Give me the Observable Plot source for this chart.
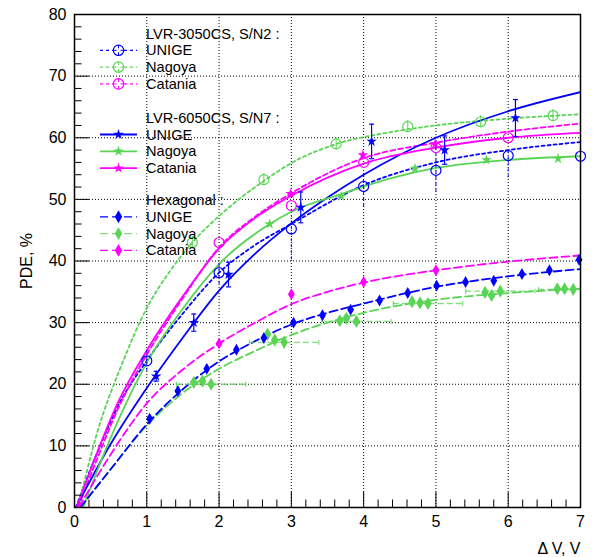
<!DOCTYPE html>
<html>
<head>
<meta charset="utf-8">
<script src="https://cdn.jsdelivr.net/npm/d3@7"></script>
<script src="https://cdn.jsdelivr.net/npm/@observablehq/plot@0.6"></script>
<style>
  html, body { margin: 0; padding: 0; background: #fff; }
  svg { display: block; }
</style>
</head>
<body>
<div id="chart"></div>
<script>
// ---------- tick labels ----------
const X_TICKS = [0, 1, 2, 3, 4, 5, 6, 7];
const Y_TICKS = [0, 10, 20, 30, 40, 50, 60, 70, 80];
const X_GRID = [1, 2, 3, 4, 5, 6];
const Y_GRID = [10, 20, 30, 40, 50, 60, 70];
const X_TITLE = "\u0394 V, V";
const Y_TITLE = "PDE, %";

// ---------- data points ----------
// LVR-3050CS, S/N2
const s3050UnigeX = [1, 2, 3, 4, 5, 6, 7];
const s3050UnigeY = [23.8, 38.1, 45.2, 52.1, 54.7, 57.1, 57.0];
const s3050UnigeErrLo = [1.7, 1.9, 5.0, 3.4, 3.5, 3.6, 3.6];
const s3050UnigeErrHi = [1.7, 1.9, 2.0, 2.0, 5.4, 1.0, 3.4];

const s3050NagoyaX = [1.63, 2.62, 3.62, 4.61, 5.62, 6.62];
const s3050NagoyaY = [43.0, 53.2, 59.0, 61.8, 62.6, 63.6];
const s3050NagoyaErr = [1, 1, 1, 1, 1, 1];

const s3050CataniaX = [2, 3, 4, 5, 6];
const s3050CataniaY = [43.0, 49.0, 56.0, 58.4, 60.0];

// LVR-6050CS, S/N7
const s6050UnigeX = [1.13, 1.65, 2.13, 3.13, 4.11, 5.12, 6.1];
const s6050UnigeY = [21.3, 30.0, 37.8, 48.7, 59.4, 58.0, 63.2];
const s6050UnigeErr = [0.8, 1.4, 2.0, 2.5, 2.8, 2.3, 3.0];

const s6050NagoyaX = [2.7, 3.69, 4.71, 5.7, 6.69];
const s6050NagoyaY = [46.0, 50.5, 55.0, 56.4, 56.6];

const s6050CataniaX = [2.99, 3.99, 4.99];
const s6050CataniaY = [50.9, 57.2, 59.0];

// Hexagonal
const hexUnigeX = [1.04, 1.43, 1.83, 2.24, 2.62, 3.03, 3.43, 3.82, 4.22, 4.61, 5.01, 5.41, 5.8, 6.19, 6.57, 6.98];
const hexUnigeY = [14.4, 18.9, 22.5, 25.6, 27.5, 30.0, 31.2, 32.1, 33.6, 34.8, 36.0, 36.6, 36.8, 37.9, 38.5, 40.2];

const hexNagoyaX = [1.65, 1.77, 1.89, 2.67, 2.77, 2.9, 3.67, 3.76, 3.9, 4.67, 4.78, 4.89, 5.68, 5.77, 5.89, 6.68, 6.78, 6.9];
const hexNagoyaY = [20.3, 20.5, 20.0, 28.1, 27.2, 26.8, 30.3, 30.7, 30.2, 33.4, 33.2, 33.1, 34.9, 34.4, 35.1, 35.5, 35.5, 35.4];
const hexNagoyaXErr = [0, 0, 0.48, 0, 0, 0.48, 0, 0, 0.48, 0, 0, 0.48, 0, 0, 0.48, 0, 0, 0.48];

const hexCataniaX = [2, 3, 4, 5];
const hexCataniaY = [26.6, 34.6, 36.6, 38.5];

// ---------- fitted curves ----------
const fit3050UnigeX = [0.02, 0.3, 0.64, 1, 1.5, 2, 2.5, 3, 4, 5, 6, 7];
const fit3050UnigeY = [0, 8.5, 17.3, 23.8, 31.5, 38.1, 42.6, 46.0, 52.3, 56.0, 58.0, 59.3];

const fit3050NagoyaX = [0.05, 0.31, 0.64, 1.03, 1.33, 1.63, 2.02, 2.62, 3, 3.6, 4.37, 5, 6, 7];
const fit3050NagoyaY = [0, 12.0, 22.8, 33.0, 38.5, 43.0, 47.5, 53.0, 55.9, 58.9, 60.9, 62.0, 63.1, 63.8];

const fit3050CataniaX = [0.05, 0.3, 0.6, 1, 1.5, 2, 2.5, 3, 4, 5, 6, 7];
const fit3050CataniaY = [0, 7.5, 16.0, 24.8, 34.0, 42.2, 47.2, 51.0, 56.7, 59.2, 61.0, 62.3];

const fit6050UnigeX = [0.02, 0.5, 1, 1.5, 2, 2.5, 3, 3.5, 4, 5, 6, 7];
const fit6050UnigeY = [0, 10.3, 19.4, 27.6, 35.2, 41.2, 46.1, 50.3, 54.0, 60.0, 64.3, 67.4];

const fit6050NagoyaX = [0.12, 0.4, 0.73, 1, 1.5, 2, 2.7, 3, 3.7, 4.37, 5, 6, 7];
const fit6050NagoyaY = [0, 8.5, 17.3, 23.5, 32.3, 39.5, 46.0, 48.0, 50.9, 53.4, 55.1, 56.4, 57.0];

const fit6050CataniaX = [0.03, 0.3, 0.6, 1, 1.5, 2, 2.5, 3, 4, 5, 6, 7];
const fit6050CataniaY = [0, 8.5, 17.0, 25.5, 34.3, 42.0, 47.0, 50.6, 55.8, 58.4, 60.0, 60.8];

const fitHexUnigeX = [0.08, 0.5, 1, 1.5, 2, 2.5, 3, 3.5, 4, 5, 6, 7];
const fitHexUnigeY = [0, 6.2, 13.5, 19.2, 23.7, 27.0, 29.7, 31.6, 33.1, 35.8, 37.5, 38.7];

const fitHexNagoyaX = [0.08, 0.5, 1, 1.5, 2, 2.5, 3, 3.5, 4, 5, 6, 7];
const fitHexNagoyaY = [0, 6.2, 13.3, 18.6, 22.5, 25.4, 28.0, 30.0, 31.6, 33.7, 34.8, 35.5];

const fitHexCataniaX = [0.06, 0.5, 1, 1.5, 2, 2.5, 3, 3.5, 4, 5, 6, 7];
const fitHexCataniaY = [0, 8.6, 16.9, 22.4, 26.6, 30.0, 33.0, 35.0, 36.5, 38.5, 39.9, 40.9];

// ---------- legend ----------
const legendHeaders = ["LVR-3050CS, S/N2 :", "LVR-6050CS, S/N7 :", "Hexagonal :"];
const legendLabels = ["UNIGE", "Nagoya", "Catania"];

// ---------- styles ----------
const BLUE = "#0000ff", GREEN = "#59d454", MAGENTA = "#ff00ff";
const FONT = "'Liberation Sans', Arial, Helvetica, sans-serif";
const DASH_SHORT = "3,3", DASH_MED = "5,3", DASH_LONG = "8,4";

const zip = (xs, ys, extra = {}) => xs.map((x, i) => {
  const o = {x, y: ys[i]};
  for (const k in extra) o[k] = extra[k][i];
  return o;
});

const capH = {draw(ctx) { ctx.moveTo(-2.5, 0); ctx.lineTo(2.5, 0); }};
const capV = {draw(ctx) { ctx.moveTo(0, -2.5); ctx.lineTo(0, 2.5); }};

const d3050U = zip(s3050UnigeX, s3050UnigeY, {lo: s3050UnigeErrLo, hi: s3050UnigeErrHi});
const d3050N = zip(s3050NagoyaX, s3050NagoyaY, {e: s3050NagoyaErr});
const d3050C = zip(s3050CataniaX, s3050CataniaY);
const d6050U = zip(s6050UnigeX, s6050UnigeY, {e: s6050UnigeErr});
const d6050N = zip(s6050NagoyaX, s6050NagoyaY);
const d6050C = zip(s6050CataniaX, s6050CataniaY);
const dHexU = zip(hexUnigeX, hexUnigeY);
const dHexN = zip(hexNagoyaX, hexNagoyaY, {xe: hexNagoyaXErr});
const dHexNBars = dHexN.filter(d => d.xe > 0);
const dHexC = zip(hexCataniaX, hexCataniaY);

const fits = [
  {x: fit3050UnigeX, y: fit3050UnigeY, stroke: BLUE, dash: DASH_SHORT},
  {x: fit3050NagoyaX, y: fit3050NagoyaY, stroke: GREEN, dash: DASH_SHORT},
  {x: fit3050CataniaX, y: fit3050CataniaY, stroke: MAGENTA, dash: DASH_MED},
  {x: fit6050UnigeX, y: fit6050UnigeY, stroke: BLUE, dash: null},
  {x: fit6050NagoyaX, y: fit6050NagoyaY, stroke: GREEN, dash: null},
  {x: fit6050CataniaX, y: fit6050CataniaY, stroke: MAGENTA, dash: null},
  {x: fitHexNagoyaX, y: fitHexNagoyaY, stroke: GREEN, dash: DASH_LONG},
  {x: fitHexUnigeX, y: fitHexUnigeY, stroke: BLUE, dash: DASH_LONG},
  {x: fitHexCataniaX, y: fitHexCataniaY, stroke: MAGENTA, dash: DASH_LONG}
];

const xMinor = d3.range(0, 7.0001, 0.2).filter(v => Math.abs(v - Math.round(v)) > 1e-6);
const yMinor = d3.range(0, 80.0001, 2).filter(v => v % 10 !== 0);

const W = 596, H = 557, ML = 74, MR = 16, MT = 14, MB = 50;
const PW = W - ML - MR, PH = H - MT - MB;

const svg = Plot.plot({
  width: W, height: H,
  marginLeft: ML, marginRight: MR, marginTop: MT, marginBottom: MB,
  style: {fontFamily: FONT, fontSize: "16px", color: "black", background: "white"},
  x: {domain: [0, 7]},
  y: {domain: [0, 80]},
  marks: [
    Plot.gridX(X_GRID, {stroke: "black", strokeOpacity: 1, strokeWidth: 1, strokeDasharray: "1,2"}),
    Plot.gridY(Y_GRID, {stroke: "black", strokeOpacity: 1, strokeWidth: 1, strokeDasharray: "1,2"}),

    // fitted curves
    ...fits.map(f => Plot.line(zip(f.x, f.y), {
      x: "x", y: "y", stroke: f.stroke, strokeWidth: 1.8,
      strokeDasharray: f.dash, curve: "monotone-x", clip: true
    })),

    // error bars
    Plot.ruleX(d3050U, {x: "x", y1: d => d.y - d.lo, y2: d => d.y + d.hi, stroke: BLUE, strokeWidth: 1, strokeDasharray: DASH_SHORT}),
    Plot.ruleX(d3050N, {x: "x", y1: d => d.y - d.e, y2: d => d.y + d.e, stroke: GREEN, strokeWidth: 1}),
    Plot.ruleX(d6050U, {x: "x", y1: d => d.y - d.e, y2: d => d.y + d.e, stroke: BLUE, strokeWidth: 1.2}),
    Plot.dot(d6050U, {x: "x", y: d => d.y - d.e, symbol: capH, stroke: BLUE, strokeWidth: 1.2}),
    Plot.dot(d6050U, {x: "x", y: d => d.y + d.e, symbol: capH, stroke: BLUE, strokeWidth: 1.2}),
    Plot.ruleY(dHexNBars, {y: "y", x1: d => d.x - d.xe, x2: d => d.x + d.xe, stroke: GREEN, strokeOpacity: 0.75, strokeWidth: 1.3, strokeDasharray: "6,3", clip: true}),
    Plot.dot(dHexNBars.filter(d => d.x - d.xe >= 0), {x: d => d.x - d.xe, y: "y", symbol: capV, stroke: GREEN, strokeOpacity: 0.75, strokeWidth: 1.2}),
    Plot.dot(dHexNBars.filter(d => d.x + d.xe <= 7), {x: d => d.x + d.xe, y: "y", symbol: capV, stroke: GREEN, strokeOpacity: 0.75, strokeWidth: 1.2}),

    // markers
    Plot.dot(d3050U, {x: "x", y: "y", r: 5, stroke: BLUE, fill: "none", strokeWidth: 1.2}),
    Plot.dot(d3050N, {x: "x", y: "y", r: 5, stroke: GREEN, fill: "none", strokeWidth: 1.2}),
    Plot.dot(d3050C, {x: "x", y: "y", r: 5, stroke: MAGENTA, fill: "none", strokeWidth: 1.2}),
    Plot.dot(d6050U, {x: "x", y: "y", r: 3.3, symbol: "star", fill: BLUE, stroke: "none"}),
    Plot.dot(d6050N, {x: "x", y: "y", r: 3.3, symbol: "star", fill: GREEN, stroke: "none"}),
    Plot.dot(d6050C, {x: "x", y: "y", r: 3.3, symbol: "star", fill: MAGENTA, stroke: "none"}),
    Plot.dot(dHexN, {x: "x", y: "y", r: 4, symbol: "diamond", fill: GREEN, stroke: "none"}),
    Plot.dot(dHexU, {x: "x", y: "y", r: 3.6, symbol: "diamond", fill: BLUE, stroke: "none"}),
    Plot.dot(dHexC, {x: "x", y: "y", r: 3.6, symbol: "diamond", fill: MAGENTA, stroke: "none"}),

    // frame and inward ticks
    Plot.frame({stroke: "black", strokeWidth: 1.5}),
    Plot.tickX(X_TICKS, {x: d => d, stroke: "black", strokeWidth: 1, insetTop: PH - 15}),
    Plot.tickX(xMinor, {x: d => d, stroke: "black", strokeWidth: 1, insetTop: PH - 7.5}),
    Plot.tickY(Y_TICKS, {y: d => d, stroke: "black", strokeWidth: 1, insetRight: PW - 15}),
    Plot.tickY(yMinor, {y: d => d, stroke: "black", strokeWidth: 1, insetRight: PW - 7.5}),

    // axis labels
    Plot.axisX({ticks: X_TICKS, tickSize: 0, tickPadding: 8, label: null, fontSize: 16, tickFormat: d => String(d)}),
    Plot.axisY({ticks: Y_TICKS, tickSize: 0, tickPadding: 8, label: null, fontSize: 16, tickFormat: d => String(d)}),
    Plot.text([X_TITLE], {frameAnchor: "bottom-right", text: d => d, dy: 46, lineAnchor: "bottom", textAnchor: "end", fontSize: 16, fill: "black"}),
    Plot.text([Y_TITLE], {frameAnchor: "left", text: d => d, dx: -48, rotate: -90, textAnchor: "middle", fontSize: 16, fill: "black"})
  ]
});

// ---------- legend (drawn into the same svg) ----------
const leg = d3.select(svg).append("g")
  .attr("font-family", FONT).attr("font-size", "14.6px").attr("fill", "black")
  .attr("text-anchor", "start").style("text-anchor", "start");
const textX = 146, markX = 118.5, lineX1 = 100, lineX2 = 137;
const groups = [
  {header: legendHeaders[0], top: 38.5, kind: "circle", dashes: [DASH_SHORT, DASH_SHORT, DASH_SHORT]},
  {header: legendHeaders[1], top: 122.7, kind: "star", dashes: [null, null, null]},
  {header: legendHeaders[2], top: 205, kind: "diamond", dashes: [DASH_LONG, DASH_LONG, DASH_LONG]}
];
const colors = [BLUE, GREEN, MAGENTA];
const rowStep = 16.8;
groups.forEach(g => {
  leg.append("text").attr("x", textX).attr("y", g.top).attr("text-anchor", "start").text(g.header);
  legendLabels.forEach((lab, i) => {
    const base = g.top + rowStep * (i + 1);
    const cy = base - 5;
    const col = colors[i];
    const isLightGreen = g.kind === "diamond" && i === 1;
    leg.append("line").attr("x1", lineX1).attr("x2", lineX2).attr("y1", cy).attr("y2", cy)
      .attr("stroke", col).attr("stroke-width", g.kind === "star" ? 1.8 : 1.2)
      .attr("stroke-opacity", isLightGreen ? 0.75 : 1)
      .attr("stroke-dasharray", g.dashes[i]);
    if (g.kind === "circle") {
      leg.append("circle").attr("cx", markX).attr("cy", cy).attr("r", 5.2)
        .attr("fill", "white").attr("stroke", col).attr("stroke-width", 1.2);
      leg.append("line").attr("x1", markX - 5).attr("x2", markX - 2).attr("y1", cy).attr("y2", cy).attr("stroke", col);
      leg.append("line").attr("x1", markX + 2).attr("x2", markX + 5).attr("y1", cy).attr("y2", cy).attr("stroke", col);
      leg.append("line").attr("x1", markX).attr("x2", markX).attr("y1", cy - 5).attr("y2", cy - 2).attr("stroke", col);
      leg.append("line").attr("x1", markX).attr("x2", markX).attr("y1", cy + 2).attr("y2", cy + 5).attr("stroke", col);
    } else {
      const type = g.kind === "star" ? d3.symbolStar : d3.symbolDiamond;
      const r = g.kind === "star" ? 3.3 : 3.9;
      leg.append("path").attr("transform", `translate(${markX},${cy})`)
        .attr("d", d3.symbol(type, r * r * Math.PI)()).attr("fill", col);
    }
    leg.append("text").attr("x", textX).attr("y", base).attr("text-anchor", "start").text(lab);
  });
});

document.getElementById("chart").appendChild(svg);
</script>
</body>
</html>
